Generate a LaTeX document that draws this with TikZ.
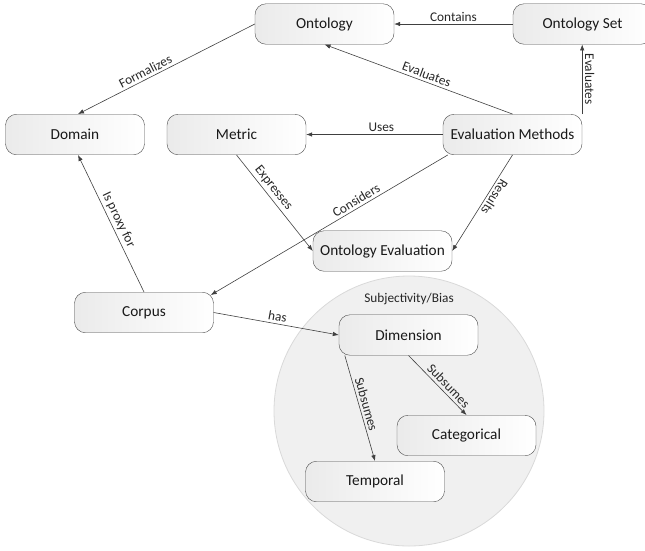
\documentclass[tikz,border=0pt]{standalone}
\usepackage{fontspec}
\setmainfont{Carlito}
\usetikzlibrary{arrows.meta}
\begin{document}
\begin{tikzpicture}[x=1pt,y=-1pt,
 box/.style={draw=black!70, rounded corners=11pt, minimum width=139pt, minimum height=40.5pt, inner sep=0pt, left color=black!8, right color=white, font=\fontsize{15.3}{18}\selectfont, text=black!90},
 arr/.style={draw=black!75, line width=0.6pt, -{Latex[length=6pt,width=4.5pt]}},
 lab/.style={font=\fontsize{13.3}{16}\selectfont, inner sep=2.5pt, text=black!85}]
\useasboundingbox (0,0) rectangle (645,550);
\fill[black!6, draw=black!15, line width=0.8pt] (409,411) circle[radius=135pt];
\node[box] (ont) at (324.5,24) {Ontology};
\node[box] (os) at (582.5,24) {Ontology Set};
\node[box] (dom) at (75,134.5) {Domain};
\node[box] (met) at (236.5,134.5) {Metric};
\node[box] (evm) at (512.5,134.5) {Evaluation Methods};
\node[box] (corp) at (144,312.5) {Corpus};
\node[box] (oe) at (382.5,251) {Ontology Evaluation};
\node[box] (dim) at (408.5,335) {Dimension};
\node[box] (cat) at (466.5,435.5) {Categorical};
\node[box] (tmp) at (375,481.5) {Temporal};
\node[lab] (sb) at (409,299) {Subjectivity/Bias};
\draw[arr] (os) -- node[lab,above] {Contains} (ont);
\draw[arr] (ont.west) -- node[lab,sloped,above,pos=0.6] {Formalizes} ([xshift=3pt]dom.north);
\draw[arr] (evm.north) -- node[lab,sloped,above,pos=0.47] {Evaluates} (ont.south);
\draw[arr] (evm.north east) -- node[lab,rotate=-90,anchor=south] {Evaluates} (evm.north east |- os.south);
\draw[arr] (evm) -- node[lab,above,pos=0.45] {Uses} (met);
\draw[arr] (met.south) -- node[lab,sloped,above,pos=0.4] {Expresses} (oe.west);
\draw[arr] ([xshift=5pt]evm.south west) -- node[lab,sloped,above,pos=0.37] {Considers} ([xshift=-3pt,yshift=-3pt]corp.north east);
\draw[arr] (evm.south) -- node[lab,sloped,above,allow upside down,pos=0.4] {Results} (oe.east);
\draw[arr] (corp.north) -- node[lab,sloped,above,pos=0.5] {Is proxy for} ([xshift=3pt]dom.south);
\draw[arr] (corp.east) -- node[lab,sloped,above,pos=0.5] {has} (dim.west);
\draw[arr] (dim.south) -- node[lab,sloped,above,pos=0.6] {Subsumes} (cat.north);
\draw[arr] ([xshift=6pt]dim.south west) -- node[lab,sloped,above,pos=0.48] {Subsumes} (tmp.north);
\end{tikzpicture}
\end{document}
